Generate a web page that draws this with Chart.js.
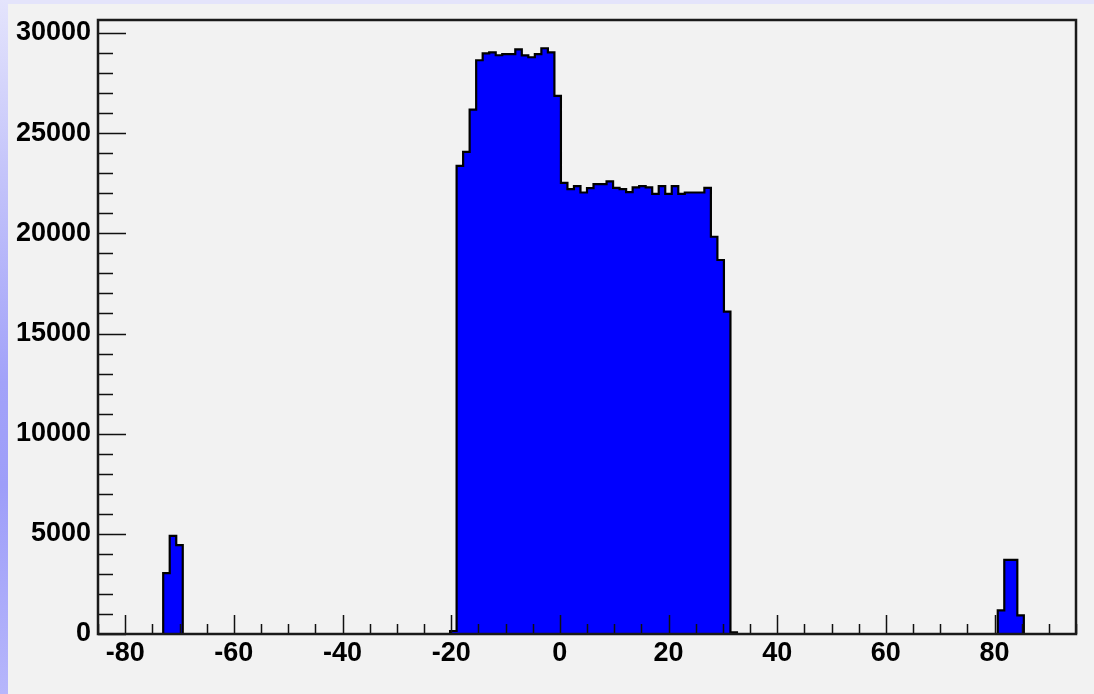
<!DOCTYPE html>
<html>
<head>
<meta charset="utf-8">
<script src="https://cdn.jsdelivr.net/npm/chart.js@4.4.1/dist/chart.umd.min.js"></script>
<style>
  html, body { margin: 0; padding: 0; background: #f2f2f2; }
  #page { position: relative; width: 1094px; height: 694px; overflow: hidden; background: #f2f2f2; }
  #topStrip { position: absolute; left: 0; top: 0; width: 1094px; height: 4px; background: #e4e4fb; }
  #leftStrip { position: absolute; left: 0; top: 0; width: 8px; height: 694px;
    background: linear-gradient(to bottom, #e4e4fc 0%, #c4c4fa 25%, #a2a2f9 55%, #9e9ef9 70%, #b6b6fb 100%); }
  #histo { position: absolute; left: 8px; top: 4px; }
</style>
</head>
<body>
<div id="page">
  <div id="topStrip"></div>
  <div id="leftStrip"></div>
  <canvas id="histo" width="1086" height="690"></canvas>
</div>
<script>
// histogram binning: 150 bins from -85 to 95
const binLow = -85;
const binWidth = 1.2;

// bin contents, 10 bins per row
const binCounts = [
  0, 0, 0, 0, 0, 0, 0, 0, 0, 0,
  3040, 4900, 4440, 0, 0, 0, 0, 0, 0, 0,
  0, 0, 0, 0, 0, 0, 0, 0, 0, 0,
  0, 0, 0, 0, 0, 0, 0, 0, 0, 0,
  0, 0, 0, 0, 0, 0, 0, 0, 0, 0,
  0, 0, 0, 0, 150, 23370, 24070, 26180, 28640, 28980,
  29030, 28890, 28950, 28950, 29180, 28880, 28790, 28950, 29240, 29030,
  26860, 22520, 22210, 22360, 22040, 22260, 22460, 22460, 22590, 22270,
  22210, 22060, 22290, 22360, 22290, 21970, 22360, 21970, 22360, 21970,
  22040, 22040, 22040, 22270, 19830, 18670, 16090, 80, 0, 0,
  0, 0, 0, 0, 0, 0, 0, 0, 0, 0,
  0, 0, 0, 0, 0, 0, 0, 0, 0, 0,
  0, 0, 0, 0, 0, 0, 0, 0, 0, 0,
  0, 0, 0, 0, 0, 0, 0, 0, 1180, 3700,
  3700, 930, 0, 0, 0, 0, 0, 0, 0, 0,
];

// axis ticks
const xTickValues = [-80, -60, -40, -20, 0, 20, 40, 60, 80];
const yTickValues = [0, 5000, 10000, 15000, 20000, 25000, 30000];
const xMinorStep = 5;
const yMinorStep = 1000;
const xRange = [-85, 95];
const yRange = [0, 30650];

// step points: one per bin low edge, plus the closing upper edge
const stepPoints = binCounts.map((c, i) => ({ x: binLow + i * binWidth, y: c }));
stepPoints.push({ x: binLow + binCounts.length * binWidth, y: 0 });

const labelFont = { family: "'Liberation Sans', Arial, sans-serif", size: 27, weight: "bold" };

// ROOT style frame with inward tick marks
const frameTicks = {
  id: "frameTicks",
  afterDatasetsDraw(chart) {
    const { ctx, chartArea: a, scales } = chart;
    const xs = scales.x, ys = scales.y;
    ctx.save();
    ctx.strokeStyle = "#111";
    ctx.lineWidth = 1.5;
    ctx.beginPath();
    for (let v = Math.ceil(xs.min / xMinorStep) * xMinorStep; v <= xs.max; v += xMinorStep) {
      const px = Math.round(xs.getPixelForValue(v)) + 0.5;
      const len = xTickValues.includes(v) ? 19 : 10;
      ctx.moveTo(px, a.bottom);
      ctx.lineTo(px, a.bottom - len);
    }
    for (let v = 0; v <= ys.max; v += yMinorStep) {
      const py = Math.round(ys.getPixelForValue(v)) + 0.5;
      const len = yTickValues.includes(v) ? 28 : 15;
      ctx.moveTo(a.left, py);
      ctx.lineTo(a.left + len, py);
    }
    ctx.stroke();
    ctx.lineWidth = 2.5;
    ctx.strokeStyle = "#1a1a1a";
    ctx.strokeRect(a.left, a.top, a.right - a.left, a.bottom - a.top);
    ctx.restore();
  },
};

new Chart(document.getElementById("histo"), {
  type: "line",
  data: {
    datasets: [
      {
        data: stepPoints,
        stepped: "before",
        fill: "origin",
        backgroundColor: "#0000ff",
        borderColor: "#000000",
        borderWidth: 2.2,
        pointRadius: 0,
        tension: 0,
      },
    ],
  },
  plugins: [frameTicks],
  options: {
    responsive: false,
    animation: false,
    events: [],
    layout: {
      autoPadding: false,
      padding: { top: 16, right: 18, left: 0, bottom: 0 },
    },
    plugins: {
      legend: { display: false },
      tooltip: { enabled: false },
    },
    scales: {
      x: {
        type: "linear",
        min: xRange[0],
        max: xRange[1],
        grid: { display: false, drawTicks: false },
        border: { display: false },
        afterBuildTicks: (scale) => {
          scale.ticks = xTickValues.map((v) => ({ value: v }));
        },
        afterFit: (scale) => {
          scale.height = 60;
          scale.paddingLeft = 0;
          scale.paddingRight = 0;
        },
        ticks: {
          font: labelFont,
          color: "#000",
          padding: 3,
          maxRotation: 0,
          autoSkip: false,
        },
      },
      y: {
        type: "linear",
        min: yRange[0],
        max: yRange[1],
        grid: { display: false, drawTicks: false },
        border: { display: false },
        afterBuildTicks: (scale) => {
          scale.ticks = yTickValues.map((v) => ({ value: v }));
        },
        afterFit: (scale) => {
          scale.width = 90;
          scale.paddingTop = 0;
          scale.paddingBottom = 0;
        },
        ticks: {
          font: labelFont,
          color: "#000",
          padding: 7,
          autoSkip: false,
          callback: (v) => String(v),
        },
      },
    },
  },
});
</script>
</body>
</html>
